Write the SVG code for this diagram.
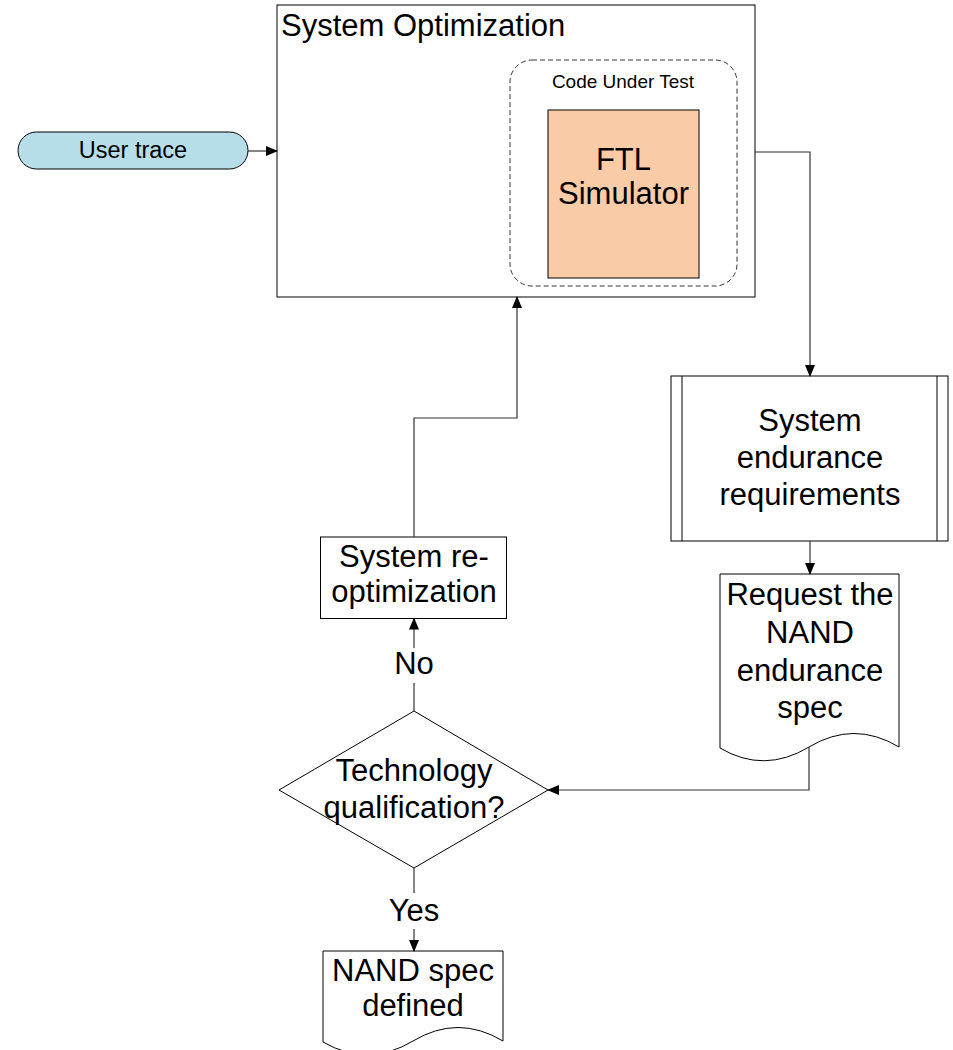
<svg xmlns="http://www.w3.org/2000/svg" width="953" height="1050" viewBox="0 0 953 1050">
<style>
text{font-family:"Liberation Sans",Arial,sans-serif;fill:#000}
.box{fill:#fff;stroke:#000;stroke-width:1}
.c{text-anchor:middle;font-size:31px}
.conn{fill:none;stroke:#333;stroke-width:1.2}
</style>
<defs>
<marker id="arr" markerWidth="12" markerHeight="10" refX="11" refY="5" orient="auto" markerUnits="userSpaceOnUse">
<path d="M0,0 L12,5 L0,10 Z" fill="#000"/>
</marker>
</defs>
<rect width="953" height="1050" fill="#fff"/>
<g id="sysopt">
<rect class="box" x="277" y="5" width="478" height="292"/>
<text x="281" y="36" font-size="31">System Optimization</text>
</g>
<g id="cut">
<rect x="510" y="60" width="227" height="226" rx="22" fill="none" stroke="#333" stroke-dasharray="5,3"/>
<text x="623" y="88" text-anchor="middle" font-size="19">Code Under Test</text>
</g>
<g id="ftl">
<rect x="548" y="110" width="151" height="168" fill="#F9CBA7" stroke="#000"/>
<text class="c" x="623.5" y="170" font-size="32">FTL</text>
<text class="c" x="623.5" y="204" font-size="32">Simulator</text>
</g>
<g id="user">
<rect x="18" y="132" width="230" height="37" rx="18.5" fill="#B7DDE8" stroke="#000"/>
<text x="133" y="158" text-anchor="middle" font-size="23.5">User trace</text>
</g>
<g id="sysend">
<rect class="box" x="671" y="376" width="277" height="165"/>
<line x1="682" y1="376" x2="682" y2="541" stroke="#000"/>
<line x1="937" y1="376" x2="937" y2="541" stroke="#000"/>
<text class="c" x="810" y="431">System</text>
<text class="c" x="810" y="468">endurance</text>
<text class="c" x="810" y="505">requirements</text>
</g>
<g id="request">
<path class="box" d="M720,574 H899 V747 Q854,720 809,747 Q764,774 720,748 Z"/>
<text class="c" x="810" y="605">Request the</text>
<text class="c" x="810" y="643">NAND</text>
<text class="c" x="810" y="681">endurance</text>
<text class="c" x="810" y="718">spec</text>
</g>
<g id="tech">
<path class="box" d="M414,711 L548,790 L414,868 L279,790 Z"/>
<text class="c" x="414" y="781">Technology</text>
<text class="c" x="414" y="818">qualification?</text>
</g>
<g id="reopt">
<rect class="box" x="320.5" y="537" width="186" height="81.5"/>
<text class="c" x="414" y="567">System re-</text>
<text class="c" x="414" y="602">optimization</text>
</g>
<g id="nandspec">
<path class="box" d="M323,951 H503 V1041 Q458,1014 413,1041 Q368,1068 323,1042 Z"/>
<text class="c" x="413" y="981">NAND spec</text>
<text class="c" x="413" y="1016">defined</text>
</g>
<g id="connectors">
<line class="conn" x1="248" y1="151" x2="277" y2="151" marker-end="url(#arr)"/>
<polyline class="conn" points="755,152 810,152 810,376" marker-end="url(#arr)"/>
<line class="conn" x1="810" y1="541" x2="810" y2="574" marker-end="url(#arr)"/>
<polyline class="conn" points="809,747 809,790 548,790" marker-end="url(#arr)"/>
<line class="conn" x1="414" y1="711" x2="414" y2="683"/>
<line class="conn" x1="414" y1="648" x2="414" y2="618.5" marker-end="url(#arr)"/>
<polyline class="conn" points="414,537 414,418 517,418 517,297" marker-end="url(#arr)"/>
<line class="conn" x1="414" y1="868" x2="414" y2="893"/>
<line class="conn" x1="414" y1="929" x2="414" y2="951" marker-end="url(#arr)"/>
<text class="c" x="414" y="674" font-size="28">No</text>
<text class="c" x="414" y="921" font-size="28">Yes</text>
</g>
</svg>
